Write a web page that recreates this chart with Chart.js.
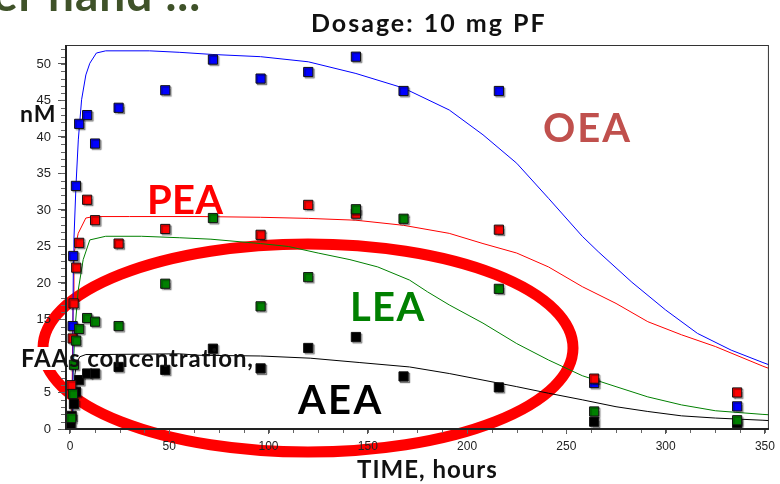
<!DOCTYPE html>
<html>
<head>
<meta charset="utf-8">
<script src="https://cdn.jsdelivr.net/npm/chart.js@4/dist/chart.umd.min.js"></script>
<style>
  html, body { margin: 0; padding: 0; background: #fff; }
  #wrap { position: relative; width: 780px; height: 484px; overflow: hidden; }
  #wrap canvas { position: absolute; left: 0; top: 0; }
  .lbl { position: absolute; font-family: Lato, sans-serif; font-weight: 700; line-height: 1; white-space: nowrap; }
</style>
</head>
<body>
<div id="wrap">
  <canvas id="chart" width="780" height="484"></canvas>
  <div class="lbl" style="left:-7px;top:-29px;font-size:46px;color:#3f5229;letter-spacing:1px">er hand ...</div>
  <div class="lbl" style="left:311px;top:10px;font-size:25px;color:#111;letter-spacing:2px;word-spacing:1px">Dosage: 10 mg PF</div>
  <div class="lbl" style="left:20px;top:102px;font-size:23px;color:#111;letter-spacing:1px">nM</div>
  <div class="lbl" style="left:21px;top:346px;font-size:24px;color:#111;letter-spacing:0.9px">FAAs concentration,</div>
  <div class="lbl" style="left:357px;top:457px;font-size:24px;color:#111;letter-spacing:1px">TIME, hours</div>
  <div class="lbl" style="left:543px;top:107px;font-size:40px;color:#c0504d;letter-spacing:2px">OEA</div>
  <div class="lbl" style="left:147px;top:179px;font-size:40px;color:#ff0000;letter-spacing:0.3px">PEA</div>
  <div class="lbl" style="left:350px;top:286px;font-size:40px;color:#008000;letter-spacing:1.3px">LEA</div>
  <div class="lbl" style="left:298px;top:379px;font-size:40px;color:#000;letter-spacing:2.3px">AEA</div>
</div>
<script>
// axis ticks
const xTicks = [0, 50, 100, 150, 200, 250, 300, 350];
const yTicks = [0, 5, 10, 15, 20, 25, 30, 35, 40, 45, 50];

// measured concentrations (nM) vs time (hours)
const oeaHours  = [1.35, 1.65, 3, 4.65, 8.65, 12.65, 24.5, 48, 72, 96, 120, 144, 168, 216, 264, 336];
const oeaValues = [14.1, 23.7, 33.3, 41.8, 43.0, 39.1, 44.0, 46.4, 50.6, 48.0, 48.9, 51.0, 46.3, 46.3, 6.3, 3.1];

const peaHours  = [0.65, 1.35, 1.85, 3.15, 4.65, 8.65, 12.65, 24.5, 48, 96, 120, 144, 216, 264, 336];
const peaValues = [6.0, 12.4, 17.2, 22.1, 25.5, 31.4, 28.6, 25.4, 27.4, 26.6, 30.7, 29.5, 27.3, 6.9, 5.0];

const leaHours  = [0.65, 1.5, 2, 3.15, 4.65, 8.65, 12.65, 24.5, 48, 72, 96, 120, 144, 168, 216, 264, 336];
const leaValues = [1.5, 4.8, 8.8, 12.1, 13.7, 15.2, 14.7, 14.1, 19.9, 28.9, 16.8, 20.8, 30.1, 28.8, 19.2, 2.4, 1.2];

const aeaHours  = [0.35, 0.85, 2, 3, 4.65, 8.65, 12.65, 24.5, 48, 72, 96, 120, 144, 168, 216, 264, 336];
const aeaValues = [0.45, 1.8, 3.4, 5.1, 6.7, 7.6, 7.6, 8.5, 8.1, 11.0, 8.3, 11.1, 12.6, 7.2, 5.7, 1.0, 0.8];

// fitted model curves
const oeaFitHours  = [1.2, 1.5, 1.7, 2, 3, 4.2, 5.85, 8, 10, 13.3, 18, 40, 55, 72, 96, 120, 144, 168, 191, 208, 225, 241, 258, 266, 283, 300, 316, 333, 349, 352];
const oeaFitValues = [0, 14, 23, 26, 33.2, 39.6, 45.1, 48.5, 50.1, 51.5, 51.8, 51.8, 51.6, 51.3, 51.0, 50.3, 48.7, 46.7, 43.7, 40.3, 36.4, 31.6, 26.4, 24.3, 20.1, 16.3, 13.1, 10.8, 9.1, 8.8];

const peaFitHours  = [0.8, 1.2, 1.6, 2, 4.15, 8, 12, 30, 65, 96, 120, 144, 168, 191, 208, 225, 241, 258, 275, 291, 308, 325, 349, 352];
const peaFitValues = [0, 8, 18, 24, 26.8, 28.9, 29.1, 29.1, 29.1, 29.0, 28.85, 28.6, 27.9, 26.8, 25.4, 24.1, 22.2, 19.5, 17.2, 14.7, 12.9, 11.3, 8.6, 8.3];

const leaFitHours  = [0.9, 1.35, 2.5, 4.15, 6.65, 10, 18, 36, 55, 71, 96, 110, 125, 141, 155, 171, 180, 191, 208, 225, 241, 258, 275, 291, 308, 325, 349, 352];
const leaFitValues = [0, 6.3, 13.6, 19.0, 23.2, 25.9, 26.4, 26.4, 26.2, 26.0, 25.4, 25.0, 24.1, 23.2, 22.2, 20.4, 18.8, 17.0, 14.5, 11.7, 9.45, 7.3, 5.8, 4.4, 3.3, 2.5, 2.0, 1.95];

const aeaFitHours  = [0.8, 1.5, 2.5, 3.5, 5, 8, 15, 55, 65, 96, 121, 146, 171, 191, 208, 225, 241, 258, 275, 291, 308, 325, 349, 352];
const aeaFitValues = [0, 4, 7.5, 9.2, 9.9, 10.2, 10.2, 10.3, 10.1, 10.0, 9.7, 9.1, 8.5, 7.6, 6.7, 5.8, 4.9, 4.0, 3.05, 2.4, 1.8, 1.5, 1.2, 1.15];

const toPoints = (hours, values) => hours.map((h, i) => ({ x: h, y: values[i] }));

function measured(label, hours, values, color, order) {
    return {
        label: label,
        data: toPoints(hours, values),
        showLine: false,
        pointStyle: 'rect',
        pointRadius: 6.5,
        pointBackgroundColor: color,
        pointBorderColor: '#111',
        pointBorderWidth: 1,
        order: order
    };
}

function fitted(label, hours, values, color, order) {
    return {
        label: label,
        data: toPoints(hours, values),
        showLine: true,
        borderColor: color,
        borderWidth: 1,
        pointRadius: 0,
        tension: 0,
        fill: false,
        order: order
    };
}

// ellipse, white caption patch, minor ticks, frame, point shadows
const decorations = {
    id: 'decorations',
    beforeDraw(chart) {
        const ctx = chart.ctx;
        ctx.save();
        ctx.strokeStyle = '#ff0000';
        ctx.lineWidth = 11;
        ctx.beginPath();
        ctx.ellipse(308, 348, 265, 104, 0, 0, Math.PI * 2);
        ctx.stroke();
        ctx.restore();
    },
    beforeDatasetsDraw(chart) {
        const { ctx, chartArea: a, scales: { x, y } } = chart;
        ctx.save();
        ctx.strokeStyle = '#666';
        ctx.lineWidth = 1;
        ctx.beginPath();
        for (let v = 0; v <= y.max; v += 1) {
            const py = Math.round(y.getPixelForValue(v)) + 0.5;
            ctx.moveTo(a.left - 5, py);
            ctx.lineTo(a.left, py);
        }
        for (let v = 0; v <= x.max; v += 12.5) {
            const px = Math.round(x.getPixelForValue(v)) + 0.5;
            ctx.moveTo(px, a.bottom);
            ctx.lineTo(px, a.bottom + 4);
        }
        ctx.stroke();
        // caption sits on a white box in the slide
        ctx.fillStyle = '#fff';
        ctx.fillRect(18, 347, 240, 23);
        ctx.restore();
    },
    beforeDatasetDraw(chart, args) {
        const ctx = chart.ctx;
        ctx.save();
        if (!chart.data.datasets[args.index].showLine) {
            ctx.shadowColor = 'rgba(0,0,0,0.35)';
            ctx.shadowOffsetX = 1.5;
            ctx.shadowOffsetY = 1.5;
            ctx.shadowBlur = 1;
        }
    },
    afterDatasetDraw(chart) {
        chart.ctx.restore();
    },
    afterDatasetsDraw(chart) {
        const { ctx, chartArea: a } = chart;
        ctx.save();
        ctx.strokeStyle = '#333';
        ctx.lineWidth = 1;
        ctx.strokeRect(a.left + 0.5, a.top + 0.5, a.width - 1, a.height - 1);
        ctx.strokeStyle = '#222';
        ctx.lineWidth = 2;
        ctx.beginPath();
        ctx.moveTo(a.left, a.top);
        ctx.lineTo(a.left, a.bottom);
        ctx.lineTo(a.right, a.bottom);
        ctx.stroke();
        ctx.restore();
    }
};

new Chart(document.getElementById('chart'), {
    type: 'scatter',
    data: {
        datasets: [
            measured('LEA', leaHours, leaValues, '#008000', 1),
            measured('PEA', peaHours, peaValues, '#ff0000', 2),
            measured('OEA', oeaHours, oeaValues, '#0000ff', 3),
            measured('AEA', aeaHours, aeaValues, '#000000', 4),
            fitted('OEA fit', oeaFitHours, oeaFitValues, '#0000ff', 5),
            fitted('PEA fit', peaFitHours, peaFitValues, '#ff0000', 6),
            fitted('LEA fit', leaFitHours, leaFitValues, '#008000', 7),
            fitted('AEA fit', aeaFitHours, aeaFitValues, '#000000', 8)
        ]
    },
    options: {
        responsive: false,
        animation: false,
        layout: { padding: { top: 45, right: 6, left: 0, bottom: 0 } },
        plugins: {
            legend: { display: false },
            tooltip: { enabled: false }
        },
        scales: {
            x: {
                type: 'linear',
                min: -2,
                max: 352,
                afterFit(s) { s.height = 55; },
                afterBuildTicks(s) { s.ticks = xTicks.map(v => ({ value: v })); },
                border: { display: false },
                grid: { drawOnChartArea: false, drawTicks: true, tickLength: 5, tickColor: '#555' },
                ticks: {
                    color: '#222',
                    padding: 5,
                    maxRotation: 0,
                    font: { family: 'Liberation Sans', size: 12 }
                }
            },
            y: {
                type: 'linear',
                min: 0,
                max: 52.6,
                afterFit(s) { s.width = 66; },
                afterBuildTicks(s) { s.ticks = yTicks.map(v => ({ value: v })); },
                border: { display: false },
                grid: { drawOnChartArea: false, drawTicks: true, tickLength: 8, tickColor: '#555' },
                ticks: {
                    color: '#222',
                    padding: 7,
                    font: { family: 'Liberation Sans', size: 13 }
                }
            }
        }
    },
    plugins: [decorations]
});
</script>
</body>
</html>
